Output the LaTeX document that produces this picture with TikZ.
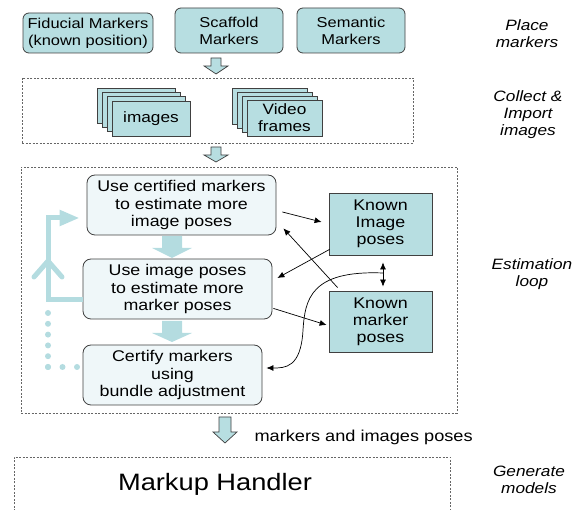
\documentclass[tikz,border=0pt]{standalone}
\usepackage{fontspec}
\setmainfont{Liberation Sans}[FakeStretch=1.15]
\usetikzlibrary{arrows.meta,calc}
\definecolor{teal1}{RGB}{183,222,225}
\definecolor{pale}{RGB}{239,247,249}
\definecolor{loopc}{RGB}{180,220,224}
\definecolor{edge}{RGB}{64,64,64}
\tikzset{pics/blockdown/.style n args={4}{code={\path[pic actions] (-#1,0) -- (#1,0) -- (#1,#2) -- (#3,#2) -- (0,#4) -- (-#3,#2) -- (-#1,#2) -- cycle;}}}
\begin{document}
\begin{tikzpicture}[x=1pt,y=-1pt,
  mbox/.style={draw=edge, line width=0.8pt, fill=teal1, rounded corners=6pt, align=center, inner sep=0pt, font=\fontsize{14.3}{17}\selectfont},
  sbox/.style={draw=edge, line width=0.8pt, fill=pale, rounded corners=8pt, align=center, inner sep=0pt, font=\fontsize{15.5}{17.5}\selectfont},
  kbox/.style={draw=edge, line width=0.8pt, fill=teal1, align=center, inner sep=0pt, font=\fontsize{15.5}{17}\selectfont, minimum width=103pt},
  frame/.style={draw=edge, line width=0.7pt, fill=teal1, inner sep=0pt, align=center, font=\fontsize{15}{17}\selectfont},
  dbox/.style={draw=gray!80!black, line width=0.6pt, dash pattern=on 2pt off 1.5pt},
  lbl/.style={font=\itshape\fontsize{15}{17}\selectfont, align=center},
  conn/.style={draw=black, line width=0.7pt, -{Latex[length=7pt,width=6pt]}},
  hollow/.style={draw=edge, line width=0.7pt, fill=teal1},
]
\useasboundingbox (0,0) rectangle (582,510);

% Place markers
\node[mbox, minimum width=130pt, minimum height=40pt] (fid) at (88,33) {Fiducial Markers\\(known position)};
\node[mbox, minimum width=108pt, minimum height=45pt] (scaf) at (229,30.5) {Scaffold\\Markers};
\node[mbox, minimum width=108pt, minimum height=45pt] (sem) at (351,30.5) {Semantic\\Markers};
\node[lbl] (l1) at (527,34) {Place\\markers};

\pic[hollow] at (216,58) {blockdown={5}{8}{12}{16}};

% Collect & import
\node[dbox, minimum width=391pt, minimum height=65pt] (collect) at (217.5,110.5) {};
\foreach \i in {3,2,1}{
  \node[frame, minimum width=78pt, minimum height=35pt] (imgs\i) at ({151-5*\i},{118.5-4.3*\i}) {};
  \node[frame, minimum width=75pt, minimum height=36pt] (vids\i) at ({284.5-5*\i},{118-4*\i}) {};
}
\node[frame, minimum width=78pt, minimum height=35pt] (imgs) at (151,118.5) {images};
\node[frame, minimum width=75pt, minimum height=36pt] (vid) at (284.5,118) {Video\\frames};
\node[lbl] (l2) at (528,115) {Collect \&\\Import\\images};

\pic[hollow] at (216,147) {blockdown={5}{8}{12}{15}};

% Estimation loop
\node[dbox, minimum width=436pt, minimum height=246pt] (loopbox) at (239,290) {};
\node[sbox, minimum width=189pt, minimum height=60pt] (b1) at (181.5,205) {Use certified markers\\to estimate more\\image poses};
\node[sbox, minimum width=189pt, minimum height=60pt] (b2) at (177.5,289) {Use image poses\\to estimate more\\marker poses};
\node[sbox, minimum width=179pt, minimum height=60pt] (b3) at (172.5,375) {Certify markers\\using\\bundle adjustment};
\node[kbox, minimum height=62pt] (ki) at (380.5,224) {Known\\Image\\poses};
\node[kbox, minimum height=61pt] (km) at (380.5,321.5) {Known\\marker\\poses};
\node[lbl] (l3) at (532,274) {Estimation\\loop};

\pic[fill=loopc] at (172,236) {blockdown={10}{12}{20}{22}};
\pic[fill=loopc] at (172,321) {blockdown={10}{12}{20}{21}};

% loop-back arrow
\coordinate (lpA) at ([yshift=-11pt]b2.west);
\coordinate (lpT) at ([xshift=-7pt,yshift=-13pt]b1.west);
\draw[loopc, line width=5pt, -{Triangle[length=20pt,width=15pt]}] (lpA) -- (48,300) -- (48,218) -- (lpT);
\draw[loopc, line width=5pt, line cap=round, line join=round] (34,277) -- (48,261) -- (62,277);
\coordinate (dotE) at ([xshift=-6pt,yshift=8pt]b3.west);
\draw[loopc, line width=6pt, line cap=round, dash pattern=on 0pt off 10.8pt] (48,313) -- (48,367.5);
\draw[loopc, line width=6pt, line cap=round, dash pattern=on 0pt off 14.5pt] (48,367) -- ([xshift=0.5pt]dotE);

% connectors
\draw[conn] ([xshift=6pt,yshift=-7pt]b1.east) -- ([xshift=-7pt,yshift=2pt]ki.west);
\draw[conn] ([xshift=9pt,yshift=3pt]km.north west) -- ([xshift=7pt,yshift=7pt]b1.south east);
\draw[conn] ([xshift=1pt,yshift=6pt]ki.south west) -- ([xshift=5pt,yshift=11pt]b2.east);
\draw[conn] ([xshift=1pt,yshift=11pt]b2.south east) -- ([xshift=-2pt,yshift=-3.5pt]km.west);
\draw[conn, {Latex[length=7pt,width=6pt]}-{Latex[length=7pt,width=6pt]}] ([xshift=2.5pt,yshift=-7pt]ki.south) -- ([xshift=2.5pt,yshift=4pt]km.north);
\coordinate (cs) at ($([xshift=2.5pt]ki.south)!0.5!([xshift=2.5pt]km.north)$);
\draw[conn] (cs) .. controls (310,270) and (305,300) .. (303,330) .. controls (301,368) and (285,368) .. ([xshift=4pt,yshift=7pt]b3.east);

% output
\pic[hollow] at (225,417) {blockdown={6}{15}{12}{26}};
\node[font=\fontsize{15.8}{18}\selectfont, anchor=west] (mip) at (251,437) {markers and images poses};

% Generate models
\draw[dbox] (14,515) -- (14,457) -- (450,457) -- (450,515);
\node[font=\fontsize{23.7}{28}\selectfont] (mh) at (215,484) {Markup Handler};
\node[lbl] (l4) at (529,480) {Generate\\models};
\end{tikzpicture}
\end{document}
